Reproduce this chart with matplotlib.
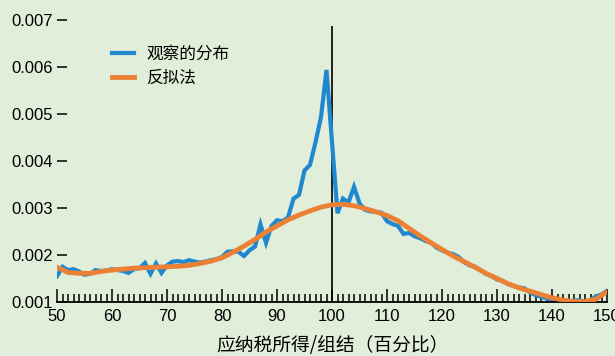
import matplotlib
matplotlib.use("Agg")
import matplotlib.pyplot as plt
import numpy as np

plt.rcParams['font.family'] = ['Liberation Sans', 'Noto Sans CJK SC', 'DejaVu Sans']

# 应纳税所得（百分比），每 1 个单位一个观测点
income_pct = np.arange(50, 151)
observed = [
    0.00155, 0.00175, 0.00168, 0.00170, 0.00165, 0.00158, 0.00160, 0.00168, 0.00166, 0.00167,
    0.00170, 0.00168, 0.00166, 0.00162, 0.00170, 0.00172, 0.00183, 0.00160, 0.00182, 0.00162,
    0.00178, 0.00186, 0.00187, 0.00185, 0.00189, 0.00186, 0.00184, 0.00186, 0.00189, 0.00191,
    0.00196, 0.00207, 0.00208, 0.00207, 0.00198, 0.00210, 0.00218, 0.00265, 0.00226, 0.00262,
    0.00274, 0.00272, 0.00280, 0.00320, 0.00328, 0.00380, 0.00392, 0.00440, 0.00494, 0.00594,
    0.00440, 0.00289, 0.00320, 0.00312, 0.00345, 0.00310, 0.00296, 0.00293, 0.00292, 0.00290,
    0.00272, 0.00266, 0.00262, 0.00245, 0.00247, 0.00240, 0.00236, 0.00230, 0.00226, 0.00216,
    0.00210, 0.00205, 0.00202, 0.00196, 0.00185, 0.00178, 0.00175, 0.00168, 0.00160, 0.00155,
    0.00148, 0.00145, 0.00138, 0.00134, 0.00131, 0.00129, 0.00120, 0.00115, 0.00111, 0.00108,
    0.00105, 0.00104, 0.00100, 0.00101, 0.00103, 0.00104, 0.00100, 0.00104, 0.00112, 0.00116,
    0.00124,
]

# 反拟法曲线，每 2 个单位一个点
fit_pct = np.arange(50, 151, 2)
fitted = [
    0.00174, 0.00163, 0.00161, 0.00161, 0.00165, 0.00168, 0.00170, 0.00172, 0.00173, 0.00174,
    0.00175, 0.00176, 0.00178, 0.00182, 0.00187, 0.00194, 0.00206, 0.00219, 0.00233, 0.00249,
    0.00262, 0.00275, 0.00285, 0.00294, 0.00302, 0.00307, 0.00308, 0.00305, 0.00299, 0.00292,
    0.00284, 0.00273, 0.00257, 0.00241, 0.00226, 0.00212, 0.00198, 0.00186, 0.00174, 0.00161,
    0.00150, 0.00139, 0.00130, 0.00123, 0.00116, 0.00109, 0.00104, 0.00101, 0.00101, 0.00106,
    0.00122,
]

y_ticks = [0.001, 0.002, 0.003, 0.004, 0.005, 0.006, 0.007]
kink = 100
kink_top = 0.00687

bg = '#e0eeda'
fig = plt.figure(figsize=(6.15, 3.56), dpi=100, facecolor=bg)
ax = fig.add_axes([0.0927, 0.1517, 0.8943, 0.818])
ax.set_facecolor(bg)

ax.vlines(kink, y_ticks[0], kink_top, color='black', lw=1.2, zorder=1)
ax.plot(income_pct, observed, color='#1f88d0', lw=3, label='观察的分布',
        solid_joinstyle='miter', zorder=2)
ax.plot(fit_pct, fitted, color='#ec8136', lw=3.5, label='反拟法', zorder=3)

ax.set_xlim(50, 150)
ax.set_ylim(0.001, 0.0072)

for side in ['left', 'top', 'right']:
    ax.spines[side].set_visible(False)
ax.spines['bottom'].set_linewidth(1.3)

ax.set_xticks(np.arange(50, 151, 10))
ax.set_xticks(np.arange(50, 151, 1), minor=True)
ax.tick_params(axis='x', which='major', direction='in', length=9.5, width=1.1,
               pad=5, labelsize=12)
ax.tick_params(axis='x', which='minor', direction='in', length=6, width=1.1)

ax.set_yticks(y_ticks)
ax.set_yticklabels(['%.3f' % v for v in y_ticks])
ax.tick_params(axis='y', direction='in', length=7, width=1.1, pad=3, labelsize=12)

ax.set_xlabel('应纳税所得/组结（百分比）', fontsize=13.5, labelpad=8,
              family=['Noto Sans CJK SC', 'DejaVu Sans'])

leg = ax.legend(loc='upper left', bbox_to_anchor=(0.169, 0.895),
                bbox_transform=fig.transFigure, frameon=False, borderpad=0,
                handlelength=1.32, handletextpad=0.72, labelspacing=0.42,
                prop={'family': ['Noto Sans CJK SC', 'DejaVu Sans'], 'size': 12})

fig.savefig('out.png', dpi=100, facecolor=bg)
